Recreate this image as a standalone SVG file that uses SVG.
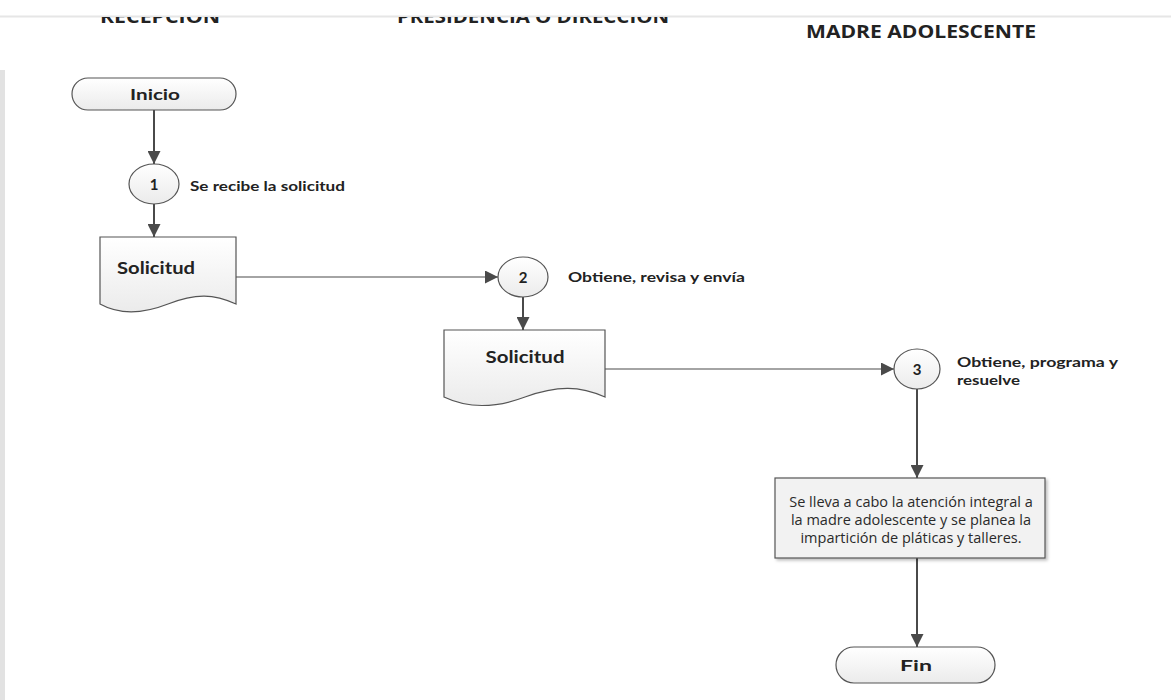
<svg xmlns="http://www.w3.org/2000/svg" width="1171" height="700" viewBox="0 0 1171 700">
<defs>
<linearGradient id="g" x1="0" y1="0" x2="0" y2="1"><stop offset="0" stop-color="#ffffff"/><stop offset="1" stop-color="#ebebeb"/></linearGradient>
<marker id="ah2" viewBox="0 0 10 10" refX="10" refY="5" markerWidth="15" markerHeight="13" markerUnits="userSpaceOnUse" orient="auto"><path d="M0,0 L10,5 L0,10 z" fill="#4a4a4a"/></marker>
<filter id="sh" x="-10%" y="-10%" width="130%" height="130%"><feDropShadow dx="2" dy="2" stdDeviation="1.5" flood-color="#000" flood-opacity="0.25"/></filter>
</defs>
<style>
.shape{fill:url(#g);stroke:#555;stroke-width:1.2}
.head{font-family:"Open Sans","Liberation Sans",sans-serif;font-weight:bold;font-size:17px;fill:#222;text-anchor:middle}
.t{font-family:Lato,"Liberation Sans",sans-serif;font-weight:bold;fill:#222}
.c{font-family:"Open Sans","Liberation Sans",sans-serif;font-size:14.5px;fill:#2a2a2a;text-anchor:middle}
.ln{stroke:#4a4a4a;fill:none}
</style>
<rect width="1171" height="700" fill="#ffffff"/>
<rect x="0" y="70" width="5" height="630" fill="#e2e2e2"/>
<line x1="0" y1="16.5" x2="1171" y2="16.5" stroke="#e6e6e6" stroke-width="2"/>
<g id="headings">
<svg x="0" y="17" width="1171" height="40" overflow="hidden">
<text class="head" x="160" y="6" textLength="120" lengthAdjust="spacingAndGlyphs">RECEPCION</text>
<text class="head" x="533" y="6" textLength="272" lengthAdjust="spacingAndGlyphs">PRESIDENCIA O DIRECCION</text>
</svg>
<text class="head" x="921" y="38" textLength="230" lengthAdjust="spacingAndGlyphs">MADRE ADOLESCENTE</text>
</g>
<g id="connectors">
<line class="ln" stroke-width="2" x1="154" y1="110" x2="154" y2="164" marker-end="url(#ah2)"/>
<line class="ln" stroke-width="2" x1="154" y1="204" x2="154" y2="237" marker-end="url(#ah2)"/>
<line class="ln" stroke-width="1.2" x1="236" y1="277" x2="498" y2="277" marker-end="url(#ah2)"/>
<line class="ln" stroke-width="2" x1="523" y1="297" x2="523" y2="330" marker-end="url(#ah2)"/>
<line class="ln" stroke-width="1.2" x1="605" y1="369" x2="894" y2="369" marker-end="url(#ah2)"/>
<line class="ln" stroke-width="2" x1="917" y1="389" x2="917" y2="478" marker-end="url(#ah2)"/>
<line class="ln" stroke-width="2" x1="917" y1="558" x2="917" y2="647" marker-end="url(#ah2)"/>
</g>
<g id="inicio">
<rect class="shape" x="72" y="78" width="164" height="32" rx="16"/>
<text class="t" x="155" y="100" font-size="16" text-anchor="middle" textLength="50" lengthAdjust="spacingAndGlyphs">Inicio</text>
</g>
<g id="step1">
<ellipse class="shape" cx="154" cy="184" rx="25" ry="20"/>
<text class="t" x="154" y="189.5" font-size="15" text-anchor="middle">1</text>
<text class="t" x="190" y="191" font-size="13.5" textLength="155" lengthAdjust="spacingAndGlyphs">Se recibe la solicitud</text>
</g>
<g id="doc1">
<path class="shape" d="M100,237 H236 V304 C214,294 196,293 168,304 C140,315 118,314 100,304 Z"/>
<text class="t" x="156" y="274" font-size="17" text-anchor="middle" textLength="78" lengthAdjust="spacingAndGlyphs">Solicitud</text>
</g>
<g id="step2">
<ellipse class="shape" cx="523" cy="277" rx="25" ry="20"/>
<text class="t" x="523" y="282.5" font-size="15" text-anchor="middle">2</text>
<text class="t" x="568" y="282" font-size="13.5" textLength="177" lengthAdjust="spacingAndGlyphs">Obtiene, revisa y envía</text>
</g>
<g id="doc2">
<path class="shape" d="M444,330 H605 V397 C580,386 558,385 525,397 C493,409 467,408 444,397 Z"/>
<text class="t" x="525" y="363" font-size="17" text-anchor="middle" textLength="79" lengthAdjust="spacingAndGlyphs">Solicitud</text>
</g>
<g id="step3">
<ellipse class="shape" cx="917" cy="369" rx="23" ry="20"/>
<text class="t" x="917" y="374.5" font-size="15" text-anchor="middle">3</text>
<text class="t" x="957" y="367" font-size="13.5" textLength="161" lengthAdjust="spacingAndGlyphs">Obtiene, programa y</text>
<text class="t" x="957" y="385" font-size="13.5" textLength="63" lengthAdjust="spacingAndGlyphs">resuelve</text>
</g>
<g id="task">
<rect x="775" y="478" width="270" height="80" fill="#f2f2f2" stroke="#555" stroke-width="1.2" filter="url(#sh)"/>
<text class="c" x="911" y="507">Se lleva a cabo la atención integral a</text>
<text class="c" x="911" y="525">la madre adolescente y se planea la</text>
<text class="c" x="911" y="543">impartición de pláticas y talleres.</text>
</g>
<g id="fin">
<rect class="shape" x="836" y="647" width="159" height="36" rx="18"/>
<text class="t" x="916" y="671" font-size="16" text-anchor="middle" textLength="32" lengthAdjust="spacingAndGlyphs">Fin</text>
</g>
</svg>
